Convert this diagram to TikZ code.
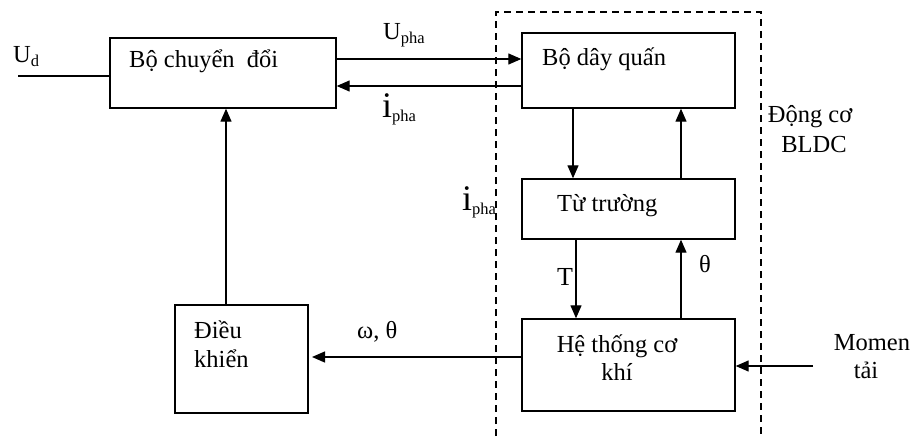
\documentclass[tikz,border=0pt]{standalone}
\usepackage{fontspec}
\setmainfont{Liberation Serif}
\usetikzlibrary{arrows.meta}
\newcommand{\sbs}[1]{\raisebox{-4pt}{\fontsize{16.5}{17}\selectfont #1}}
\begin{document}
\begin{tikzpicture}[x=1pt,y=1pt,
  box/.style={draw, line width=1.4pt, inner sep=0pt},
  arr/.style={line width=1.3pt, -{Triangle[length=13pt,width=11pt]}},
  ln/.style={line width=1.3pt},
  txt/.style={font=\fontsize{24.5}{26}\selectfont, inner sep=0pt},
  bigi/.style={font=\fontsize{36}{38}\selectfont, inner sep=0pt},
  dsh/.style={line width=1.3pt, dash pattern=on 7pt off 5pt}
  ]
\useasboundingbox (0,0) rectangle (912,-436);
% boxes
\node[box, minimum width=226pt, minimum height=70pt] (conv) at (223,-73) {};
\node[box, minimum width=213pt, minimum height=75pt] (wind) at (628.5,-70.5) {};
\node[box, minimum width=213pt, minimum height=60pt] (field) at (628.5,-209) {};
\node[box, minimum width=213pt, minimum height=92pt] (mech) at (628.5,-365) {};
\node[box, minimum width=133pt, minimum height=108pt] (ctrl) at (241.5,-359) {};
% box texts
\node[txt, anchor=base west] (convt) at (129,-67) {Bộ chuyển\ \ đổi};
\node[txt, anchor=base west] (windt) at (542,-65) {Bộ dây quấn};
\node[txt, anchor=base west] (fieldt) at (557,-211) {Từ trường};
\node[txt, anchor=base] (mecht1) at (617,-352) {Hệ thống cơ};
\node[txt, anchor=base] (mecht2) at (617,-380) {khí};
\node[txt, anchor=base west] (ctrlt1) at (194,-338) {Điều};
\node[txt, anchor=base west] (ctrlt2) at (194,-367) {khiển};
% dashed motor boundary
\coordinate (d1) at (496,-436);
\coordinate (d2) at (496,-12);
\coordinate (d3) at (761,-12);
\coordinate (d4) at (761,-436);
\draw[dsh] (d1) -- (d2) -- (d3) -- (d4);
\node[txt, anchor=base] (mot1) at (810,-122) {Động cơ};
\node[txt, anchor=base] (mot2) at (814,-152) {BLDC};
% U_d input
\coordinate (ud) at (18,-76);
\draw[ln] (ud) -- (conv.west |- ud);
\node[txt, anchor=base west] (udl) at (13,-63) {U\sbs{d}};
% U_pha and i_pha
\coordinate (up) at (336,-59);
\draw[arr] (conv.east |- up) -- (wind.west |- up);
\node[txt, anchor=base west] (upl) at (383,-40) {U\sbs{pha}};
\coordinate (ip) at (336,-86);
\draw[arr] (wind.west |- ip) -- (conv.east |- ip);
\node[bigi, anchor=base west] (ipl) at (382,-117) {i\sbs{pha}};
\node[bigi, anchor=base west] (ipl2) at (462,-210) {i\sbs{pha}};
% winding <-> field
\coordinate (xa) at (573,0);
\coordinate (xb) at (681,0);
\draw[arr] (wind.south -| xa) -- (field.north -| xa);
\draw[arr] (field.north -| xb) -- (wind.south -| xb);
% field <-> mech
\coordinate (xc) at (576,0);
\draw[arr] (field.south -| xc) -- (mech.north -| xc);
\draw[arr] (mech.north -| xb) -- (field.south -| xb);
\node[font=\fontsize{26}{28}\selectfont, inner sep=0pt, anchor=base west] (tl) at (557,-285) {T};
\node[txt, anchor=base west] (thl) at (699,-272) {θ};
% load torque
\coordinate (ml) at (813,-366);
\draw[arr] (ml) -- (mech.east |- ml);
\node[txt, anchor=base] (mom1) at (872,-350) {Momen};
\node[txt, anchor=base] (mom2) at (866,-378) {tải};
% feedback
\coordinate (fb) at (312,-357);
\draw[arr] (mech.west |- fb) -- (fb);
\node[txt, anchor=base west] (fbl) at (357,-338) {ω, θ};
% control -> converter
\coordinate (xd) at (226,0);
\draw[arr] (ctrl.north -| xd) -- (conv.south -| xd);
\end{tikzpicture}
\end{document}
